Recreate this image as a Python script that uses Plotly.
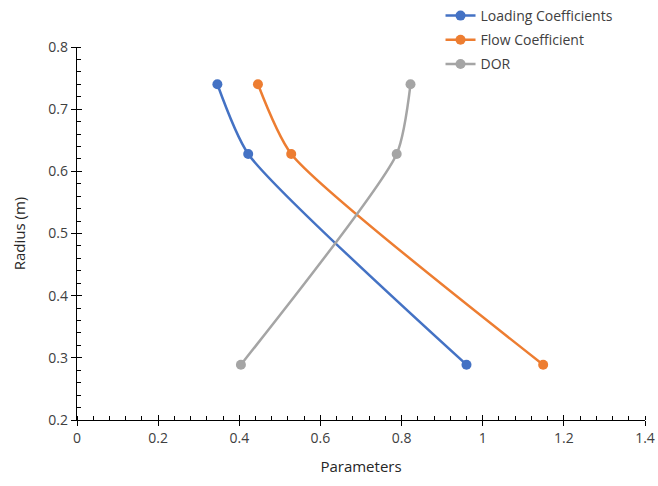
import plotly.graph_objects as go

radius = [0.74, 0.628, 0.289]
loading = [0.346, 0.422, 0.960]
flow = [0.446, 0.528, 1.149]
dor = [0.822, 0.788, 0.404]

names = ["Loading Coefficients", "Flow Coefficient", "DOR"]
colors = ["#4472C4", "#ED7D31", "#A5A5A5"]
series = [loading, flow, dor]

FONT = "Open Sans"
fig = go.Figure()
for i, (n, c, s) in enumerate(zip(names, colors, series)):
    fig.add_trace(go.Scatter(
        x=s, y=radius, name=n, mode="lines+markers",
        line=dict(color=c, width=2.5, shape="spline", smoothing=0.6),
        marker=dict(color=c, size=10), legendgroup=n,
    ))

fig.add_trace(go.Scatter(x=[None], y=[None], xaxis="x2", yaxis="y2", showlegend=False, hoverinfo="skip"))

axcommon = dict(showgrid=False, zeroline=False, showline=True, linecolor="black", linewidth=1.3,
                tickcolor="black", tickwidth=1.3, ticklen=5,
                tickfont=dict(family=FONT, size=14, color="#404040"))

fig.update_layout(
    width=658, height=486,
    margin=dict(l=77, r=13, t=47, b=66, autoexpand=False),
    paper_bgcolor="white", plot_bgcolor="white",
    font=dict(family=FONT, size=14, color="#404040"),
    xaxis=dict(range=[0, 1.4], dtick=0.2, ticks="outside",
               minor=dict(dtick=0.04, ticks="inside", ticklen=4, tickcolor="black", tickwidth=1.3),
               title=dict(text="Parameters", font=dict(family=FONT, size=15, color="#262626"), standoff=15),
               **axcommon),
    yaxis=dict(range=[0.2, 0.8], dtick=0.1, ticks="outside", tickformat=".1f",
               minor=dict(dtick=0.02, ticks="inside", ticklen=4, tickcolor="black", tickwidth=1.3),
               title=dict(text="Radius (m)", font=dict(family=FONT, size=15, color="#262626"), standoff=19),
               **axcommon),
    xaxis2=dict(range=[0, 1.4], dtick=0.2, ticks="inside", showticklabels=False, overlaying="x",
                anchor="y2", showgrid=False, zeroline=False, showline=False, tickcolor="black",
                tickwidth=1.3, ticklen=5, side="bottom"),
    yaxis2=dict(range=[0.2, 0.8], dtick=0.1, ticks="inside", showticklabels=False, overlaying="y",
                anchor="x2", showgrid=False, zeroline=False, showline=False, tickcolor="black",
                tickwidth=1.3, ticklen=5, side="left"),
    legend=dict(x=0.64, y=1.126, xanchor="left", yanchor="top", bgcolor="rgba(0,0,0,0)",
                font=dict(family=FONT, size=14, color="#404040"), tracegroupgap=3,
                traceorder="grouped"),
)

fig.write_html("out.html")
